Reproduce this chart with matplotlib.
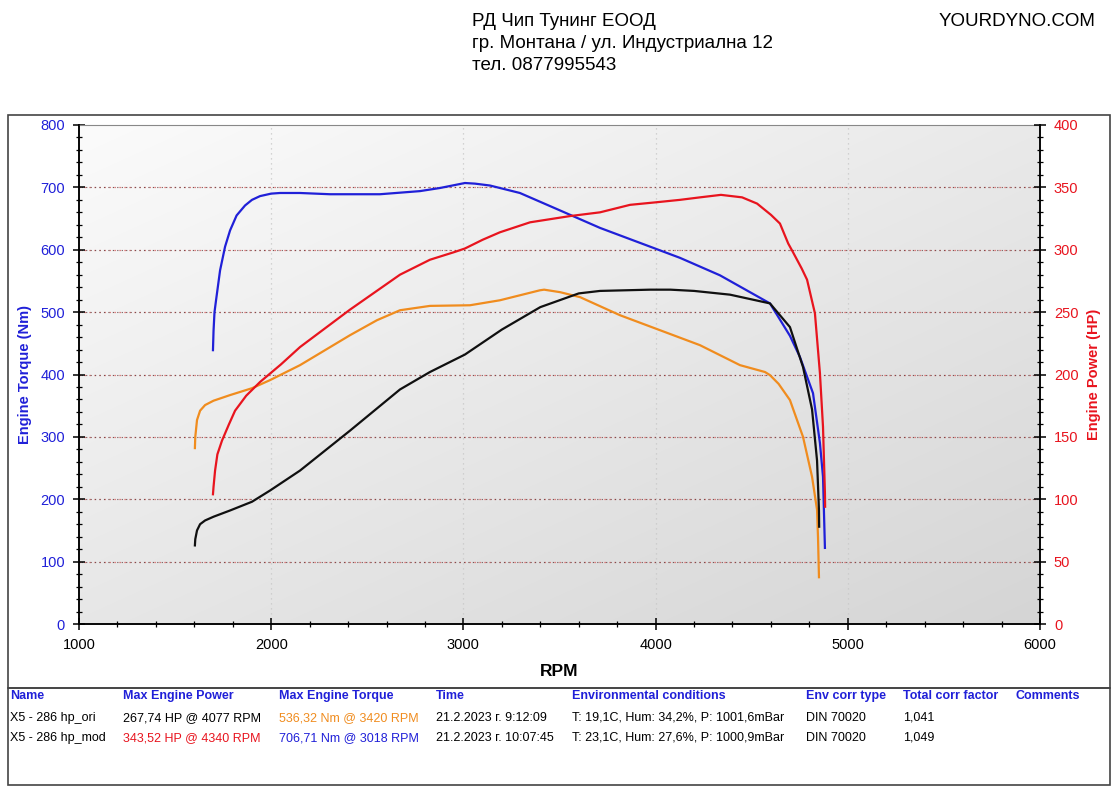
import numpy as np
import matplotlib
matplotlib.use("Agg")
import matplotlib.pyplot as plt
from matplotlib.patches import Rectangle
from matplotlib.ticker import MultipleLocator

plt.rcParams['font.family'] = ['Liberation Sans', 'DejaVu Sans']

# ---- data ----
mod_torque_rpm = [1697, 1700, 1705, 1713, 1734, 1760, 1786, 1820, 1864, 1900, 1942, 2000, 2046, 2150,
                  2306, 2566, 2774, 2878, 3008, 3060, 3138, 3294, 3503, 3711, 3919, 4127, 4335, 4491,
                  4595, 4699, 4751, 4819, 4855, 4871, 4881]
mod_torque_nm = [439, 470, 500, 519, 567, 605, 631, 655, 671, 680, 686, 690, 691, 691,
                 689, 689, 694, 699, 707, 706, 703, 691, 663, 635, 611, 587, 559, 532,
                 514, 462, 428, 370, 290, 236, 122]

mod_power_rpm = [1697, 1700, 1708, 1720, 1744, 1780, 1812, 1870, 1942, 2050, 2150, 2280, 2410, 2540,
                 2670, 2826, 2950, 3008, 3100, 3190, 3347, 3555, 3711, 3867, 4000, 4127, 4231, 4340,
                 4450, 4528, 4600, 4647, 4690, 4715, 4760, 4788, 4829, 4855, 4871, 4881, 4882]
mod_power_hp = [104, 110, 123, 136, 147, 160, 171, 183, 194, 208, 222, 237, 252, 266,
                280, 292, 298, 301, 308, 314, 322, 327, 330, 336, 338, 340, 342, 344,
                342, 337, 328, 321, 305, 298, 285, 276, 249, 201, 158, 105, 94]

ori_torque_rpm = [1603, 1605, 1614, 1630, 1656, 1700, 1786, 1900, 1994, 2150, 2410, 2550, 2670, 2826,
                  3034, 3190, 3294, 3398, 3420, 3503, 3607, 3815, 4023, 4231, 4439, 4569, 4595, 4640,
                  4699, 4767, 4814, 4840, 4845, 4850]
ori_torque_nm = [282, 300, 327, 342, 351, 358, 367, 378, 391, 415, 463, 487, 503, 510,
                 511, 519, 527, 535, 536, 532, 524, 495, 471, 447, 415, 404, 399, 385,
                 359, 300, 236, 183, 139, 75]

ori_power_rpm = [1603, 1605, 1614, 1630, 1656, 1700, 1786, 1900, 1994, 2150, 2410, 2670, 2826, 3008,
                 3200, 3400, 3600, 3711, 3971, 4077, 4200, 4387, 4595, 4699, 4767, 4814, 4840, 4850, 4851]
ori_power_hp = [63, 68, 75, 80, 83, 86, 91, 98, 107, 123, 155, 188, 202, 216,
                236, 254, 265, 267, 268, 268, 267, 264, 257, 238, 206, 172, 131, 91, 78]

header_lines = ["РД Чип Тунинг ЕООД", "гр. Монтана / ул. Индустриална 12", "тел. 0877995543"]
brand = "YOURDYNO.COM"

table_headers = ["Name", "Max Engine Power", "Max Engine Torque", "Time",
                 "Environmental conditions", "Env corr type", "Total corr factor", "Comments"]
table_rows = [
    ["X5 - 286 hp_ori", "267,74 HP @ 4077 RPM", "536,32 Nm @ 3420 RPM", "21.2.2023 г. 9:12:09",
     "T: 19,1C, Hum: 34,2%, P: 1001,6mBar", "DIN 70020", "1,041", ""],
    ["X5 - 286 hp_mod", "343,52 HP @ 4340 RPM", "706,71 Nm @ 3018 RPM", "21.2.2023 г. 10:07:45",
     "T: 23,1C, Hum: 27,6%, P: 1000,9mBar", "DIN 70020", "1,049", ""],
]

BLUE = "#2020d8"
RED = "#e8141e"
ORANGE = "#f08c1e"
BLACK = "#101010"

W, H = 1118, 790
fig = plt.figure(figsize=(W / 100, H / 100), dpi=100)

def fx(px):
    return px / W

def fy(py):
    return 1 - py / H

# frames
fig.patches.append(Rectangle((fx(8), fy(688)), fx(1110) - fx(8), fy(115) - fy(688),
                             transform=fig.transFigure, fill=False, edgecolor="#444444", lw=1.2))
fig.patches.append(Rectangle((fx(8), fy(785)), fx(1110) - fx(8), fy(688) - fy(785),
                             transform=fig.transFigure, fill=False, edgecolor="#444444", lw=1.2))

# header
for i, line in enumerate(header_lines):
    fig.text(fx(472), fy(21 + i * 22), line, fontsize=13.5, ha="left", va="center", color="black")
fig.text(fx(1095), fy(21), brand, fontsize=13.5, ha="right", va="center", color="black")

ax = fig.add_axes([fx(79), fy(624), fx(1040) - fx(79), fy(125) - fy(624)])
ax2 = ax.twinx()

# gradient background (light: top-left near white, bottom-right light grey)
gx = np.linspace(0, 1, 300)
gy = np.linspace(0, 1, 300)  # 0 = top row
GX, GY = np.meshgrid(gx, gy)
g = 0.985 - 0.07 * GX - 0.08 * GY
rgb = np.dstack([g, g, g])
ax.imshow(rgb, extent=[0, 1, 0, 1], transform=ax.transAxes, aspect="auto", zorder=0,
          origin="upper", interpolation="bilinear")

ax.set_xlim(1000, 6000)
ax.set_ylim(0, 800)
ax2.set_ylim(0, 400)

for v in range(100, 800, 100):
    ax.axhline(v, color="#d85a5a", lw=0.9, ls=(0, (1, 3)), zorder=1)
    ax.axhline(v, color="#705050", lw=0.8, ls=(2, (1, 3)), zorder=1)
for v in range(2000, 6000, 1000):
    ax.axvline(v, color="#c8c8c8", lw=0.9, ls=(0, (1, 3)), zorder=1)

ax.plot(mod_torque_rpm, mod_torque_nm, color=BLUE, lw=1.6, zorder=3)
ax.plot(ori_torque_rpm, ori_torque_nm, color=ORANGE, lw=1.6, zorder=3)
ax2.plot(mod_power_rpm, mod_power_hp, color=RED, lw=1.6, zorder=3)
ax2.plot(ori_power_rpm, ori_power_hp, color=BLACK, lw=1.6, zorder=3)

ax.xaxis.set_major_locator(MultipleLocator(1000))
ax.xaxis.set_minor_locator(MultipleLocator(200))
ax.yaxis.set_major_locator(MultipleLocator(100))
ax.yaxis.set_minor_locator(MultipleLocator(20))
ax2.yaxis.set_major_locator(MultipleLocator(50))
ax2.yaxis.set_minor_locator(MultipleLocator(10))

ax.tick_params(axis="x", which="major", direction="inout", length=8, width=1.1, labelsize=10.5, pad=6,
               colors="black")
ax.tick_params(axis="x", which="minor", direction="inout", length=5, width=0.9)
ax.tick_params(axis="y", which="major", direction="inout", length=8, width=1.1, labelsize=10.5,
               labelcolor=BLUE, pad=6)
ax.tick_params(axis="y", which="minor", direction="inout", length=5, width=0.9)
ax2.tick_params(axis="y", which="major", direction="inout", length=8, width=1.1, labelsize=10.5,
                labelcolor=RED, pad=6)
ax2.tick_params(axis="y", which="minor", direction="inout", length=5, width=0.9)

for a in (ax, ax2):
    for s in a.spines.values():
        s.set_color("black")
        s.set_linewidth(1.1)
ax.spines["top"].set_color("#888888")
ax.spines["top"].set_linewidth(0.8)
ax2.spines["top"].set_visible(False)

ax.set_xlabel("RPM", fontsize=12.5, fontweight="bold", labelpad=9)
ax.set_ylabel("Engine Torque (Nm)", fontsize=10.5, fontweight="bold", color=BLUE, labelpad=6)
ax2.set_ylabel("Engine Power (HP)", fontsize=10.5, fontweight="bold", color=RED, labelpad=6)

# table
col_x = [10, 123, 279, 436, 572, 806, 903, 1015]
for xi, h in zip(col_x, table_headers):
    fig.text(fx(xi), fy(696), h, fontsize=9, fontweight="bold", color=BLUE, ha="left", va="center")
row_colors = [
    ["black", "black", ORANGE, "black", "black", "black", "black", "black"],
    ["black", RED, BLUE, "black", "black", "black", "black", "black"],
]
for r, (row, cols) in enumerate(zip(table_rows, row_colors)):
    for xi, val, c in zip(col_x, row, cols):
        fig.text(fx(xi), fy(718 + r * 20), val, fontsize=9, color=c, ha="left", va="center")

fig.savefig("out.png", dpi=100)
